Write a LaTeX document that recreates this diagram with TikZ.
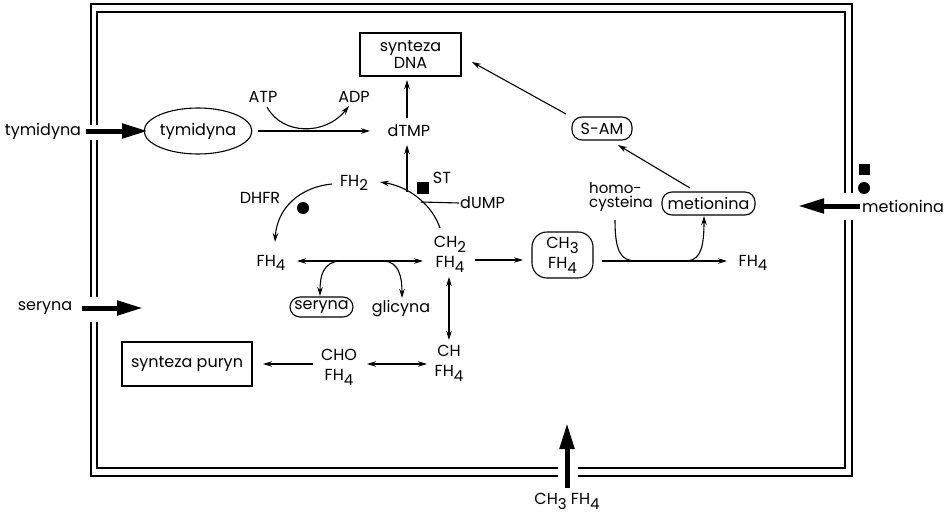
\documentclass[tikz,border=0pt]{standalone}
\usepackage{fontspec}
\setmainfont{Poppins}
\usetikzlibrary{arrows.meta,shapes.geometric}
\newcommand{\dn}[1]{\raisebox{-0.55ex}{\fontsize{15}{15}\selectfont #1}}
\begin{document}
\begin{tikzpicture}[x=1pt,y=-1pt,
  every node/.style={font=\fontsize{16}{20}\selectfont, inner sep=1pt, align=center},
  border/.style={line width=1.3pt},
  arr/.style={line width=1.1pt, -{Stealth[length=9pt,width=5.5pt]}},
  darr/.style={line width=1.1pt, {Stealth[length=9pt,width=5.5pt]}-{Stealth[length=9pt,width=5.5pt]}},
  plain/.style={line width=1.1pt},
  bigarr/.style={line width=5pt, -{Triangle[length=26pt,width=14pt]}},
  sqbox/.style={draw, line width=1.1pt, inner sep=0pt},
  rbox/.style={draw, line width=1.1pt, rounded corners=10pt, inner sep=0pt}]
\useasboundingbox (0,0) rectangle (947,519);

% double border with gaps
\draw[border] (91,125) -- (91,4) -- (852,4) -- (852,193);
\draw[border] (852,220) -- (852,476) -- (578,476);
\draw[border] (558,476) -- (91,476) -- (91,322);
\draw[border] (91,297) -- (91,140);
\draw[border] (97,125) -- (97,12) -- (845,12) -- (845,193);
\draw[border] (845,220) -- (845,468) -- (578,468);
\draw[border] (558,468) -- (97,468) -- (97,322);
\draw[border] (97,297) -- (97,140);

% outside labels
\node (tymo) at (43,131) {tymidyna};
\node (sero) at (45,308) {seryna};
\node[anchor=west] (meto) at (861,206) {metionina};
\node (ch3o) at (567,501) {CH\dn{3} FH\dn{4}};
\node[fill=black, minimum size=11pt, inner sep=0pt] (sqm) at (864,169) {};
\node[fill=black, circle, minimum size=12pt, inner sep=0pt] (dotm) at (864,188) {};

% inside nodes
\node[draw, ellipse, line width=1.1pt, minimum width=91pt, minimum height=46pt, inner sep=0pt] (tym) at (198,131) {tymidyna};
\node[sqbox, minimum width=101pt, minimum height=43pt, font=\fontsize{16}{17}\selectfont] (dna) at (410.5,54.5) {synteza\\DNA};
\node (atp) at (263,97) {ATP};
\node (adp) at (354,97) {ADP};
\node (dtmp) at (409,131) {dTMP};
\node (fh2) at (354,183) {FH\dn{2}};
\node (st) at (442,178) {ST};
\node[fill=black, minimum size=12pt, inner sep=0pt] (stsq) at (423,188) {};
\node[anchor=west] (dump) at (459,203) {dUMP};
\node (dhfr) at (260,198) {DHFR};
\node[fill=black, circle, minimum size=12pt, inner sep=0pt] (dhdot) at (303,208) {};
\node (fh4a) at (271,263) {FH\dn{4}};
\node (ch2) at (450,254) {CH\dn{2}\\FH\dn{4}};
\node[rbox, minimum width=63pt, minimum height=20pt] (ser) at (321.5,307) {seryna};
\node (gli) at (401,309) {glicyna};
\node[rbox, rounded corners=15pt, minimum width=61pt, minimum height=46pt] (ch3) at (562.5,255) {CH\dn{3}\\FH\dn{4}};
\node[align=left, anchor=west, font=\fontsize{15}{14}\selectfont] (homo) at (588,197) {homo-\\cysteina};
\node[rbox, minimum width=93pt, minimum height=23pt] (met) at (708.5,203.5) {metionina};
\node[rbox, minimum width=60pt, minimum height=23pt] (sam) at (602,128.5) {S-AM};
\node (fh4b) at (753,263) {FH\dn{4}};
\node[sqbox, minimum width=130pt, minimum height=44pt] (pur) at (187,364) {synteza puryn};
\node (cho) at (339,367) {CHO\\FH\dn{4}};
\node (chf) at (449,363) {CH\\FH\dn{4}};

% coordinates
\coordinate (serin) at (143,308);
\coordinate (metin) at (798,206);
\coordinate (ch3in) at (567,423);
\coordinate (jst) at (407,192);
\coordinate (jdump) at (421,202);
\coordinate (jhc) at (636,261);
\coordinate (jmet) at (688,261);
\coordinate (jser) at (340,261);
\coordinate (jgli) at (384,261);

% thick transport arrows
\draw[bigarr] ([shift={(43,0)}]tymo.center) -- ([shift={(-50,0)}]tym.center);
\draw[bigarr] ([shift={(37,0)}]sero.center) -- (serin);
\draw[bigarr] ([shift={(-1,0)}]meto.west) -- (metin);
\draw[bigarr] ([shift={(0,-13)}]ch3o.center) -- (ch3in);

% thymidine / dTMP
\draw[arr] ([shift={(60,0)}]tym.center) -- ([shift={(-39,0)}]dtmp.center);
\draw[arr] ([shift={(4,10)}]atp.center) .. controls (282,135) and (325,136) .. ([shift={(-5,9)}]adp.center);
\draw[arr] ([shift={(-2,-13)}]dtmp.center) -- ([shift={(-3.5,25.5)}]dna.center);
\draw[arr] (jst) -- ([shift={(-2,14)}]dtmp.center);

% folate cycle
\draw[arr] ([shift={(-10,-26)}]ch2.center) .. controls (432,205) and (410,187) .. ([shift={(26,-1)}]fh2.center);
\draw[plain] (jdump) -- (dump.west);
\draw[arr] ([shift={(-22,1)}]fh2.center) .. controls (300,187) and (277,208) .. ([shift={(4,-21)}]fh4a.center);
\draw[darr] ([shift={(26,-2)}]fh4a.center) -- ([shift={(-27,7)}]ch2.center);
\draw[arr] (jser) .. controls (323,262) and (320,276) .. ([shift={(-1.5,-11)}]ser.center);
\draw[arr] (jgli) .. controls (399,262) and (402,277) .. ([shift={(1,-11)}]gli.center);
\draw[arr] ([shift={(25,6)}]ch2.center) -- ([shift={(-39.5,5)}]ch3.center);
\draw[darr] ([shift={(-1,23)}]ch2.center) -- ([shift={(0,-23)}]chf.center);
\draw[darr] ([shift={(-22,1)}]chf.center) -- ([shift={(28,-3)}]cho.center);
\draw[arr] ([shift={(-26,-3)}]cho.center) -- ([shift={(76,0)}]pur.center);

% methionine
\draw[arr] ([shift={(39.5,6)}]ch3.center) -- ([shift={(-26,-2)}]fh4b.center);
\draw[plain] ([shift={(27,23)}]homo.west) .. controls (615,250) and (620,261) .. (jhc);
\draw[arr] (jmet) .. controls (701,259) and (704,246) .. ([shift={(-4.5,12.5)}]met.center);
\draw[arr] ([shift={(-18.5,-15.5)}]met.center) -- ([shift={(16,16.5)}]sam.center);
\draw[arr] ([shift={(-36,-14.5)}]sam.center) -- ([shift={(61.5,7.5)}]dna.center);
\end{tikzpicture}
\end{document}
